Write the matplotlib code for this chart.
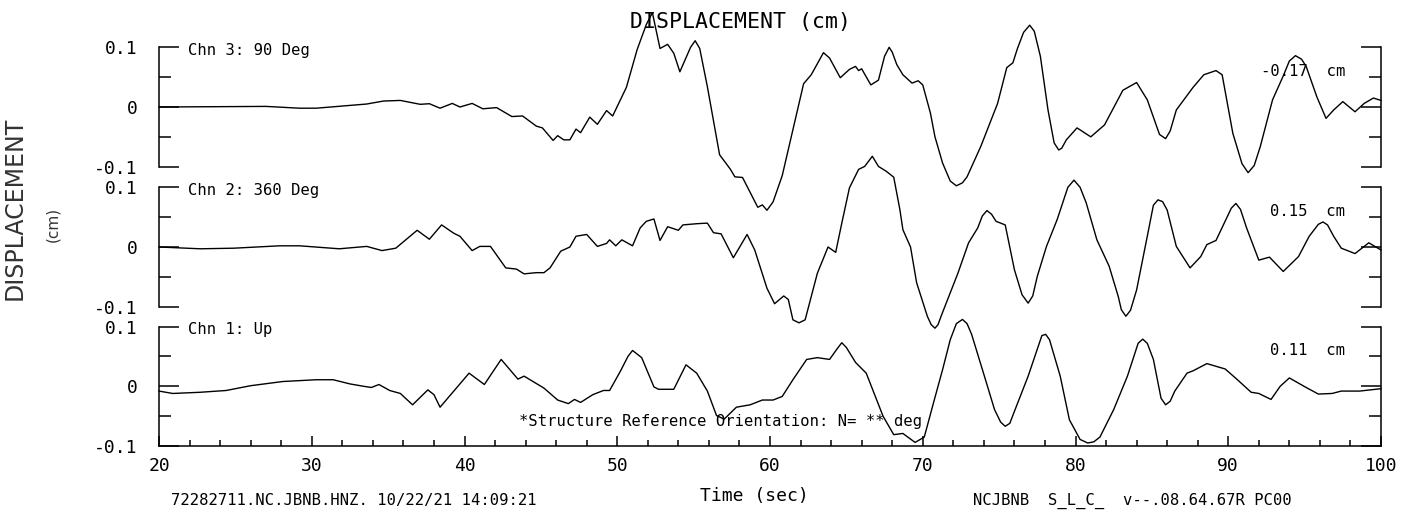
import numpy as np
import matplotlib
matplotlib.use("Agg")
import matplotlib.pyplot as plt

plt.rcParams['font.family'] = ['DejaVu Sans Mono']

# Chn 3: 90 Deg (top panel)
t3 = [20, 27.0, 29.2, 30.3, 33.6, 34.7, 35.8, 37.1, 37.7, 38.4, 39.2, 39.7, 40.5,
      41.2, 42.1, 43.1, 43.8, 44.7, 45.1, 45.8, 46.1, 46.5, 46.9, 47.3, 47.6, 48.2,
      48.7, 49.3, 49.7, 50.6, 51.3, 51.9, 52.3, 52.8, 53.3, 53.7, 54.1, 54.8, 55.1, 55.4,
      55.9, 56.7, 57.4, 57.7, 58.2, 59.2, 59.5, 59.8, 60.2, 60.8, 61.8, 62.2, 62.7,
      63.5, 63.9, 64.6, 65.2, 65.6, 65.8, 66.0, 66.6, 67.1, 67.5, 67.8, 68.0, 68.3, 68.7, 69.3,
      69.7, 70.0, 70.5, 70.8, 71.3, 71.8, 72.2, 72.6, 72.9, 73.8, 74.9, 75.5, 75.9, 76.2, 76.6, 77.0,
      77.3, 77.7, 78.2, 78.6, 78.9, 79.1, 79.4, 80.1, 81.0, 81.9, 83.1, 84.0, 84.7, 85.5, 85.9, 86.2, 86.6, 87.7,
      88.4, 89.2, 89.6, 90.3, 90.9, 91.3, 91.7, 92.1, 92.9, 93.6, 94.0, 94.4, 94.8, 95.1, 95.8, 96.4, 96.9,
      97.5, 98.3, 98.9, 99.5, 100]
d3 = [0.000, 0.001, -0.002, -0.002, 0.005, 0.010, 0.011, 0.0045, 0.0055, -0.002, 0.006, 0.000, 0.006,
      -0.003, -0.001, -0.016, -0.015, -0.032, -0.035, -0.056, -0.048, -0.055, -0.055, -0.037, -0.043, -0.017,
      -0.029, -0.006, -0.015, 0.033, 0.096, 0.138, 0.158, 0.098, 0.105, 0.090, 0.059, 0.100, 0.111, 0.098,
      0.034, -0.080, -0.104, -0.117, -0.118, -0.168, -0.164, -0.173, -0.159, -0.115, -0.005, 0.039, 0.054,
      0.091, 0.082, 0.049, 0.063, 0.068, 0.061, 0.064, 0.037, 0.045, 0.085, 0.100, 0.092, 0.071, 0.054, 0.040,
      0.044, 0.037, -0.010, -0.050, -0.094, -0.124, -0.132, -0.127, -0.117, -0.066, 0.006, 0.066, 0.074, 0.098, 0.125, 0.137,
      0.127, 0.085, -0.005, -0.060, -0.072, -0.069, -0.055, -0.035, -0.050, -0.030, 0.028, 0.041, 0.012, -0.046, -0.053, -0.040, -0.005, 0.033,
      0.054, 0.061, 0.054, -0.044, -0.095, -0.110, -0.098, -0.066, 0.012, 0.052, 0.077, 0.086, 0.080, 0.068, 0.017, -0.019, -0.005,
      0.009, -0.008, 0.006, 0.015, 0.011]

# Chn 2: 360 Deg (middle panel)
t2 = [20, 22.7, 24.9, 27.9, 29.2, 31.8, 33.6, 34.6, 35.5, 36.9, 37.7, 38.5, 39.3, 39.7,
      40.5, 41.0, 41.7, 42.7, 43.4, 43.9, 44.7, 45.2, 45.6, 46.3, 46.9, 47.3, 48.0, 48.7,
      49.3, 49.5, 49.9, 50.3, 51.0, 51.5, 51.9, 52.4, 52.8, 53.3, 54.0, 54.3, 55.2, 55.9,
      56.3, 56.8, 57.6, 58.5, 59.0, 59.8, 60.3, 60.9, 61.2, 61.5, 61.9, 62.3, 63.1, 63.8,
      64.3, 64.7, 65.2, 65.8, 66.2, 66.7, 67.1, 67.6, 68.1, 68.5, 68.7, 69.2, 69.6, 70.3,
      70.55, 70.8, 71.0, 71.2, 72.3, 73.0, 73.6, 73.9, 74.2, 74.5, 74.8, 75.4, 76.0, 76.5, 76.9, 77.2, 77.5, 78.1, 78.8,
      79.5, 79.9, 80.3, 80.7, 81.4, 82.2, 82.8, 83.0, 83.3, 83.6, 84.0, 84.7, 85.1, 85.4, 85.7, 86.0, 86.6, 87.5,
      88.2, 88.6, 89.2, 90.2, 90.5, 90.8, 91.2, 92.0, 92.7, 93.6, 94.6, 95.3, 95.9, 96.2, 96.5, 96.9, 97.4,
      98.3, 99.2, 100]
d2 = [0.000, -0.003, -0.002, 0.002, 0.002, -0.003, 0.001, -0.006, -0.002, 0.028, 0.013, 0.037, 0.023, 0.018,
      -0.006, 0.001, 0.001, -0.035, -0.037, -0.045, -0.043, -0.043, -0.035, -0.007, 0.000, 0.018, 0.021, 0.001,
      0.006, 0.012, 0.002, 0.012, 0.002, 0.032, 0.043, 0.047, 0.011, 0.034, 0.028, 0.037, 0.039, 0.040,
      0.024, 0.022, -0.018, 0.021, -0.005, -0.069, -0.095, -0.082, -0.088, -0.122, -0.127, -0.122, -0.044, 0.000,
      -0.009, 0.040, 0.099, 0.130, 0.135, 0.152, 0.135, 0.127, 0.117, 0.063, 0.029, 0.000, -0.060, -0.116,
      -0.130, -0.136, -0.130, -0.116, -0.044, 0.007, 0.032, 0.052, 0.061, 0.055, 0.043, 0.037, -0.038, -0.080, -0.094, -0.082, -0.049, 0.001, 0.046,
      0.100, 0.112, 0.100, 0.074, 0.012, -0.032, -0.083, -0.105, -0.116, -0.106, -0.072, 0.018, 0.070, 0.079, 0.076, 0.062, 0.001, -0.035,
      -0.016, 0.004, 0.011, 0.065, 0.073, 0.063, 0.032, -0.022, -0.017, -0.041, -0.016, 0.018, 0.038, 0.042, 0.037, 0.018, -0.002,
      -0.011, 0.007, -0.005]

# Chn 1: Up (bottom panel)
t1 = [20, 20.9, 22.7, 24.4, 26.0, 28.1, 30.3, 31.4, 32.5, 33.4, 33.9, 34.4, 35.1, 35.8,
      36.6, 37.6, 38.0, 38.4, 39.3, 40.3, 41.3, 42.4, 43.5, 43.9, 45.2, 46.1, 46.8, 47.2,
      47.6, 48.4, 49.1, 49.5, 50.2, 50.7, 51.0, 51.6, 52.4, 52.7, 53.7, 54.5, 55.2, 55.9, 56.5,
      57.0, 57.8, 58.7, 59.5, 60.2, 60.8, 61.5, 62.4, 63.1, 63.9, 64.4, 64.7, 65.0, 65.6, 66.3, 67.4,
      68.1, 68.7, 69.5, 70.1, 70.7, 71.3, 71.8, 72.2, 72.6, 72.9, 73.2, 74.0, 74.7, 75.1, 75.4, 75.7, 76.0, 76.9,
      77.8, 78.05, 78.3, 79.0, 79.6, 80.3, 80.8, 81.2, 81.6, 82.5, 83.4, 84.1, 84.4, 84.7, 85.1, 85.6, 85.9, 86.2, 86.5, 87.3,
      87.7, 88.6, 89.8, 90.6, 91.5, 92.0, 92.8, 93.4, 94.0, 95.1, 95.9, 96.8, 97.4, 98.6, 100]
d1 = [-0.008, -0.012, -0.010, -0.007, 0.001, 0.008, 0.011, 0.011, 0.004, 0.000, -0.002, 0.003, -0.007, -0.012,
      -0.031, -0.006, -0.014, -0.035, -0.008, 0.022, 0.003, 0.045, 0.012, 0.017, -0.003, -0.023, -0.029, -0.022,
      -0.027, -0.014, -0.007, -0.007, 0.025, 0.050, 0.060, 0.048, -0.001, -0.005, -0.005, 0.036, 0.022, -0.008, -0.049,
      -0.055, -0.035, -0.031, -0.023, -0.023, -0.017, 0.011, 0.045, 0.048, 0.045, 0.063, 0.073, 0.065, 0.040, 0.022, -0.050,
      -0.081, -0.079, -0.094, -0.085, -0.028, 0.028, 0.078, 0.105, 0.112, 0.105, 0.087, 0.020, -0.039, -0.060, -0.067, -0.062, -0.042, 0.017,
      0.085, 0.087, 0.078, 0.017, -0.056, -0.089, -0.095, -0.093, -0.085, -0.039, 0.017, 0.072, 0.079, 0.072, 0.045, -0.020, -0.031, -0.025, -0.008, 0.022,
      0.026, 0.038, 0.029, 0.011, -0.010, -0.012, -0.022, 0.000, 0.014, -0.002, -0.013, -0.012, -0.008, -0.008, -0.004]

channel_names = ['Chn 3: 90 Deg', 'Chn 2: 360 Deg', 'Chn 1: Up']
peak_labels = ['-0.17  cm', '0.15  cm', '0.11  cm']
ytick_vals = [-0.1, 0, 0.1]
ytick_text = ['-0.1', '0', '0.1']

W, H = 1413, 514


def fx(px):
    return px / W


def fy(py):
    return 1 - py / H


def setup_panel(ax, bottom_axis):
    ax.set_xlim(20, 100)
    ax.set_ylim(-0.1, 0.1)
    ax.set_facecolor('none')
    ax.spines['top'].set_visible(False)
    ax.spines['bottom'].set_visible(bottom_axis)
    for s in ['left', 'right', 'bottom']:
        ax.spines[s].set_linewidth(1.1)
    ax.set_yticks(ytick_vals)
    ax.set_yticklabels(ytick_text)
    ax.set_yticks([-0.05, 0.05], minor=True)
    ax.tick_params(axis='y', which='major', direction='in', length=14.4, width=1.1,
                   left=True, right=True, labelsize=13, pad=15.5)
    ax.tick_params(axis='y', which='minor', direction='in', length=8.3, width=1.1,
                   left=True, right=True)
    if bottom_axis:
        ax.set_xticks(np.arange(20, 101, 10))
        ax.set_xticks(np.arange(20, 101, 2), minor=True)
        ax.tick_params(axis='x', which='major', direction='in', length=7.2, width=1.1,
                       labelsize=13, pad=8)
        ax.tick_params(axis='x', which='minor', direction='in', length=4.3, width=1.1)
    else:
        ax.tick_params(axis='x', which='both', bottom=False, labelbottom=False)


fig = plt.figure(figsize=(14.13, 5.14), dpi=100)

left = fx(159)
width = fx(1381) - fx(159)
panel_h = (166.7 - 47.3) / H
bottoms = [fy(166.7), fy(306.7), fy(446)]
series = [(t3, d3), (t2, d2), (t1, d1)]

for i, (t, d) in enumerate(series):
    ax = fig.add_axes([left, bottoms[i], width, panel_h])
    setup_panel(ax, i == 2)
    ax.plot(t, d, color='black', lw=1.0, clip_on=False, zorder=3)
    ax.text(0.0237, 0.977, channel_names[i], transform=ax.transAxes,
            ha='left', va='center', fontsize=11.2)
    ax.text(97.65, 0.06, peak_labels[i], ha='right', va='center', fontsize=11.2)
    if i == 2:
        ax.text(43.57, -0.059, '*Structure Reference Orientation: N= ** deg',
                ha='left', va='center', fontsize=11.2, zorder=4)

fig.text(fx(741), fy(21.7), 'DISPLACEMENT (cm)', ha='center', va='center', fontsize=15.5)
fig.text(fx(754), fy(496), 'Time (sec)', ha='center', va='center', fontsize=13)
fig.text(fx(171), fy(501), '72282711.NC.JBNB.HNZ. 10/22/21 14:09:21',
         ha='left', va='center', fontsize=11.2)
fig.text(fx(973), fy(501), 'NCJBNB  S_L_C_  v--.08.64.67R PC00',
         ha='left', va='center', fontsize=11.2)
fig.text(fx(15), fy(208), 'DISPLACEMENT', rotation=90, ha='center', va='center',
         fontsize=17, color='#333333', family='DejaVu Sans')
fig.text(fx(53), fy(224), '(cm)', rotation=90, ha='center', va='center',
         fontsize=11, color='#333333', family='DejaVu Sans')

fig.savefig('out.png', dpi=100)
